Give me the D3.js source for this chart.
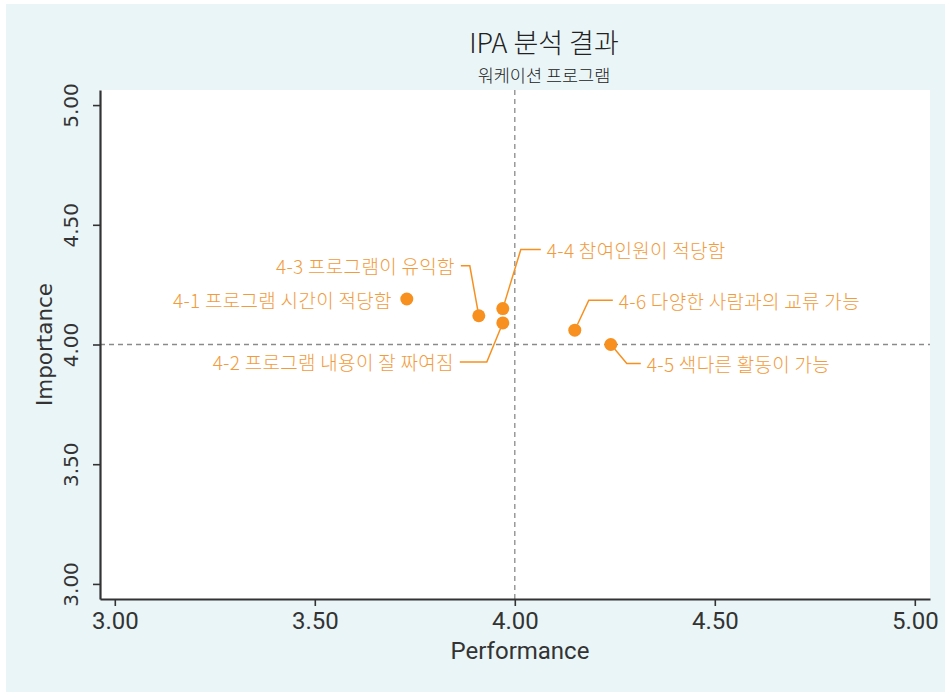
<!DOCTYPE html>
<html><head><meta charset="utf-8">
<script src="https://cdn.jsdelivr.net/npm/d3@7/dist/d3.min.js"></script>
<style>
body{margin:0;background:#fff;}
svg{display:block;}
</style></head>
<body>
<svg id="chart" width="945" height="692"></svg>
<script>
// ---- data ----
const itemLabels = ["4-1 프로그램 시간이 적당함","4-2 프로그램 내용이 잘 짜여짐","4-3 프로그램이 유익함","4-4 참여인원이 적당함","4-5 색다른 활동이 가능","4-6 다양한 사람과의 교류 가능"];
const performance = [3.73, 3.97, 3.91, 3.97, 4.24, 4.15];
const importance  = [4.19, 4.09, 4.12, 4.15, 4.00, 4.06];
const xTicks = [3.00, 3.50, 4.00, 4.50, 5.00];
const yTicks = [3.00, 3.50, 4.00, 4.50, 5.00];
const meanPerformance = 4.00;
const meanImportance = 4.00;
const titleText = "IPA 분석 결과";
const subtitleText = "워케이션 프로그램";

// label layout (pixel offsets from the point)
const labelLayout = [
  {dx:-15, dy:0,  ex:null, anchor:"end",   leader:false},
  {dx:-49, dy:39, ex:-16,  anchor:"end",   leader:true},
  {dx:-24, dy:-50,ex:-9,   anchor:"end",   leader:true},
  {dx:44,  dy:-59,ex:18,   anchor:"start", leader:true},
  {dx:36,  dy:19, ex:16,   anchor:"start", leader:true},
  {dx:44,  dy:-30,ex:14,   anchor:"start", leader:true}
];

const svg = d3.select("#chart");
const W = 945, H = 692;
const margin = {left:100, right:15, top:90, bottom:93};

svg.append("rect").attr("x",6).attr("y",4).attr("width",W-6).attr("height",H-4).attr("fill","#eaf5f7");

const x = d3.scaleLinear().domain([2.963, 5.038]).range([margin.left, W - margin.right]);
const y = d3.scaleLinear().domain([2.937, 5.063]).range([H - margin.bottom, margin.top]);

svg.append("rect").attr("x", margin.left).attr("y", margin.top)
  .attr("width", W - margin.right - margin.left).attr("height", H - margin.bottom - margin.top)
  .attr("fill","#fff");

const numFont = "'Liberation Sans Narrow','Roboto','Noto Sans',sans-serif";
const korFont = "'Noto Sans CJK KR','Noto Sans',sans-serif";

// reference lines
svg.append("line").attr("x1", x(meanPerformance)).attr("x2", x(meanPerformance))
  .attr("y1", margin.top).attr("y2", H - margin.bottom)
  .attr("stroke","#8a8a8a").attr("stroke-width",1.3).attr("stroke-dasharray","5,4");
svg.append("line").attr("x1", margin.left).attr("x2", W - margin.right)
  .attr("y1", y(meanImportance)).attr("y2", y(meanImportance))
  .attr("stroke","#8a8a8a").attr("stroke-width",1.3).attr("stroke-dasharray","5,4");

// axes
const xAxis = svg.append("g").attr("transform", `translate(0,${H - margin.bottom})`)
  .call(d3.axisBottom(x).tickValues(xTicks).tickFormat(d3.format(".2f")).tickSize(7).tickPadding(6).tickSizeOuter(0));
xAxis.select(".domain").attr("stroke","#333").attr("stroke-width",2.2);
xAxis.selectAll(".tick line").attr("stroke","#333").attr("stroke-width",1.6);
xAxis.selectAll(".tick text").attr("font-family", numFont).attr("font-size",24).attr("fill","#333");

const yAxis = svg.append("g").attr("transform", `translate(${margin.left},0)`)
  .call(d3.axisLeft(y).tickValues(yTicks).tickFormat(d3.format(".2f")).tickSize(7).tickSizeOuter(0));
yAxis.select(".domain").attr("stroke","#333").attr("stroke-width",2.2);
yAxis.selectAll(".tick line").attr("stroke","#333").attr("stroke-width",1.6);
yAxis.selectAll(".tick text")
  .attr("font-family","'DejaVu Sans','Liberation Sans',sans-serif").attr("font-size",20).attr("fill","#333")
  .attr("x",0).attr("dy",0)
  .attr("transform","translate(-29,0) rotate(-90)")
  .attr("text-anchor","middle").attr("dominant-baseline","central");

// axis titles
svg.append("text").attr("x", 520).attr("y", 659)
  .attr("text-anchor","middle").attr("font-family", numFont).attr("font-size",24).attr("fill","#333")
  .text("Performance");
svg.append("text").attr("transform", `translate(52,${y(4)}) rotate(-90)`)
  .attr("text-anchor","middle").attr("font-family","'DejaVu Sans','Liberation Sans',sans-serif").attr("font-size",21.5).attr("fill","#333")
  .text("Importance");

// titles
svg.append("text").attr("x", 544).attr("y", 53).attr("text-anchor","middle")
  .attr("font-family", korFont).attr("font-weight",300).attr("font-size",27).attr("fill","#222").text(titleText);
svg.append("text").attr("x", 544).attr("y", 82).attr("text-anchor","middle")
  .attr("font-family", korFont).attr("font-weight",300).attr("font-size",17.5).attr("fill","#222").text(subtitleText);

// points data
const pts = itemLabels.map((l,i)=>({label:l, p:performance[i], imp:importance[i], lay:labelLayout[i]}));
const orange = "#f7901e";
const labelColor = "#f29b3c";

// leader lines
svg.append("g").selectAll("path").data(pts.filter(d=>d.lay.leader)).join("path")
  .attr("fill","none").attr("stroke", orange).attr("stroke-width",1.5)
  .attr("d", d=>{
    const px = x(d.p), py = y(d.imp);
    const tx = px + d.lay.dx, ty = py + d.lay.dy;
    const gap = d.lay.anchor==="end" ? 6 : -6;
    const ex = px + d.lay.ex;
    const dist = Math.hypot(ex-px, ty-py);
    const sx = px + (ex-px)/dist*6, sy = py + (ty-py)/dist*6;
    return `M${sx},${sy}L${ex},${ty}L${tx+gap},${ty}`;
  });

// markers
svg.append("g").selectAll("circle").data(pts).join("circle")
  .attr("cx", d=>x(d.p)).attr("cy", d=>y(d.imp)).attr("r",6.5).attr("fill", orange);

// labels
svg.append("g").selectAll("text").data(pts).join("text")
  .attr("x", d=>x(d.p)+d.lay.dx).attr("y", d=>y(d.imp)+d.lay.dy)
  .attr("text-anchor", d=>d.lay.anchor).attr("dominant-baseline","central")
  .attr("font-family", korFont).attr("font-weight",300).attr("font-size",19).attr("letter-spacing",0.3).attr("fill", labelColor)
  .text(d=>d.label);
</script>
</body></html>
